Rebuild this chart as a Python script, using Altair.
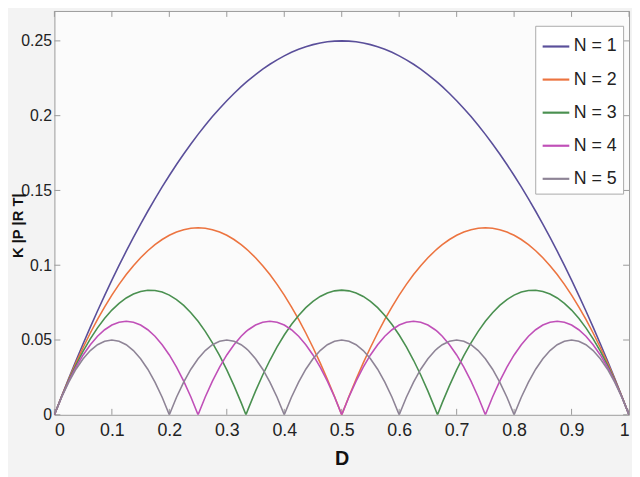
import altair as alt
import pandas as pd

D = [0, .0125, .025, .0375, .05, .0625, .075, .0875, .1, .1125,
     .125, .1375, .15, .1625, .175, .1875, .2, .2125, .225, .2375,
     .25, .2625, .275, .2875, .3, .3125, .325,
     .33333,
     .3375, .35, .3625, .375, .3875, .4, .4125, .425, .4375, .45, .4625, .475, .4875,
     .5,
     .5125, .525, .5375, .55, .5625, .575, .5875, .6, .6125, .625, .6375, .65, .6625,
     .66667,
     .675, .6875, .7, .7125, .725, .7375, .75,
     .7625, .775, .7875, .8, .8125, .825, .8375, .85, .8625, .875,
     .8875, .9, .9125, .925, .9375, .95, .9625, .975, .9875, 1]

N1 = [0, .01234, .02438, .03609, .0475, .05859, .06938, .07984, .09, .09984,
      .10938, .11859, .1275, .13609, .14438, .15234, .16, .16734, .17438, .18109,
      .1875, .19359, .19938, .20484, .21, .21484, .21938,
      .22222,
      .22359, .2275, .23109, .23438, .23734, .24, .24234, .24438, .24609, .2475, .24859, .24938, .24984,
      .25,
      .24984, .24938, .24859, .2475, .24609, .24438, .24234, .24, .23734, .23438, .23109, .2275, .22359,
      .22222,
      .21938, .21484, .21, .20484, .19938, .19359, .1875,
      .18109, .17438, .16734, .16, .15234, .14438, .13609, .1275, .11859, .10938,
      .09984, .09, .07984, .06938, .05859, .0475, .03609, .02438, .01234, 0]

N2 = [0, .01219, .02375, .03469, .045, .05469, .06375, .07219, .08, .08719,
      .09375, .09969, .105, .10969, .11375, .11719, .12, .12219, .12375, .12469,
      .125, .12469, .12375, .12219, .12, .11719, .11375,
      .11111,
      .10969, .105, .09969, .09375, .08719, .08, .07219, .06375, .05469, .045, .03469, .02375, .01219,
      0,
      .01219, .02375, .03469, .045, .05469, .06375, .07219, .08, .08719, .09375, .09969, .105, .10969,
      .11111,
      .11375, .11719, .12, .12219, .12375, .12469, .125,
      .12469, .12375, .12219, .12, .11719, .11375, .10969, .105, .09969, .09375,
      .08719, .08, .07219, .06375, .05469, .045, .03469, .02375, .01219, 0]

N3 = [0, .01203, .02313, .03328, .0425, .05078, .05813, .06453, .07, .07453,
      .07813, .08078, .0825, .08328, .08313, .08203, .08, .07703, .07313, .06828,
      .0625, .05578, .04813, .03953, .03, .01953, .00813,
      0,
      .00411, .01583, .02661, .03646, .04536, .05333, .06036, .06646, .07161, .07583, .07911, .08146, .08286,
      .08333,
      .08286, .08146, .07911, .07583, .07161, .06646, .06036, .05333, .04536, .03646, .02661, .01583, .00411,
      0,
      .00813, .01953, .03, .03953, .04813, .05578, .0625,
      .06828, .07313, .07703, .08, .08203, .08313, .08328, .0825, .08078, .07813,
      .07453, .07, .06453, .05813, .05078, .0425, .03328, .02313, .01203, 0]

N4 = [0, .01188, .0225, .03188, .04, .04688, .0525, .05688, .06, .06188,
      .0625, .06188, .06, .05688, .0525, .04688, .04, .03188, .0225, .01188,
      0, .01188, .0225, .03188, .04, .04688, .0525,
      .05556,
      .05688, .06, .06188, .0625, .06188, .06, .05688, .0525, .04688, .04, .03188, .0225, .01188,
      0,
      .01188, .0225, .03188, .04, .04688, .0525, .05688, .06, .06188, .0625, .06188, .06, .05688,
      .05556,
      .0525, .04688, .04, .03188, .0225, .01188, 0,
      .01188, .0225, .03188, .04, .04688, .0525, .05688, .06, .06188, .0625,
      .06188, .06, .05688, .0525, .04688, .04, .03188, .0225, .01188, 0]

N5 = [0, .01172, .02188, .03047, .0375, .04297, .04688, .04922, .05, .04922,
      .04688, .04297, .0375, .03047, .02188, .01172, 0, .01172, .02188, .03047,
      .0375, .04297, .04688, .04922, .05, .04922, .04688,
      .04444,
      .04297, .0375, .03047, .02188, .01172, 0, .01172, .02188, .03047, .0375, .04297, .04688, .04922,
      .05,
      .04922, .04688, .04297, .0375, .03047, .02188, .01172, 0, .01172, .02188, .03047, .0375, .04297,
      .04444,
      .04688, .04922, .05, .04922, .04688, .04297, .0375,
      .03047, .02188, .01172, 0, .01172, .02188, .03047, .0375, .04297, .04688,
      .04922, .05, .04922, .04688, .04297, .0375, .03047, .02188, .01172, 0]

SERIES = ["N = 1", "N = 2", "N = 3", "N = 4", "N = 5"]
COLORS = ["#5a4f9a", "#ec7440", "#4a9050", "#c050b8", "#8e8496"]
X_TICKS = [0, 0.1, 0.2, 0.3, 0.4, 0.5, 0.6, 0.7, 0.8, 0.9, 1]
Y_TICKS = [0, 0.05, 0.1, 0.15, 0.2, 0.25]

rows = []
for name, vals in zip(SERIES, [N1, N2, N3, N4, N5]):
    for d, v in zip(D, vals):
        rows.append({"D": d, "K": v, "series": name})
df = pd.DataFrame(rows)
xt = pd.DataFrame({"t": X_TICKS})
yt = pd.DataFrame({"t": Y_TICKS})

W, H = 582, 409
FONT = "Liberation Sans"

xscale = alt.Scale(domain=[0, 1], nice=False, zero=False)
yscale = alt.Scale(domain=[0, 0.27], nice=False, zero=False)

lines = alt.Chart(df).mark_line(strokeWidth=1.6, clip=True).encode(
    x=alt.X("D:Q", scale=xscale, title="D",
            axis=alt.Axis(values=X_TICKS, format="~g", ticks=False, tickSize=0, domain=False,
                          grid=False, labelPadding=7, labelFontSize=18, labelFont=FONT,
                          labelColor="#222222", titleFont=FONT, titleFontSize=20,
                          titleFontWeight="bold", titleColor="#111111", titleY=34)),
    y=alt.Y("K:Q", scale=yscale, title="K |P |R T|",
            axis=alt.Axis(values=Y_TICKS, format="~g", ticks=False, tickSize=0, domain=False,
                          grid=False, labelPadding=3, labelFontSize=16, labelFont=FONT,
                          labelColor="#222222", titleFont=FONT, titleFontSize=15,
                          titleFontWeight="bold", titleColor="#111111", titleX=-37, titleY=217,
                          titleAlign="center", titleBaseline="middle")),
    color=alt.Color("series:N", scale=alt.Scale(domain=SERIES, range=COLORS),
                    legend=alt.Legend(title=None, orient="none", legendX=487, legendY=15,
                                      symbolType="stroke", symbolSize=729, symbolStrokeWidth=2.2,
                                      labelFontSize=18, labelFont=FONT, labelColor="#222222",
                                      padding=6, rowPadding=9.5, labelOffset=3,
                                      fillColor="#ffffff", strokeColor="#aaaaaa")),
)

tick_color = "#999999"
xb = alt.Chart(xt).mark_rule(color=tick_color).encode(
    x=alt.X("t:Q", scale=xscale), y=alt.value(H), y2=alt.value(H - 6))
xtop = alt.Chart(xt).mark_rule(color=tick_color).encode(
    x=alt.X("t:Q", scale=xscale), y=alt.value(0), y2=alt.value(6))
yl = alt.Chart(yt).mark_rule(color=tick_color).encode(
    y=alt.Y("t:Q", scale=yscale), x=alt.value(0), x2=alt.value(6))
yr = alt.Chart(yt).mark_rule(color=tick_color).encode(
    y=alt.Y("t:Q", scale=yscale), x=alt.value(W), x2=alt.value(W - 6))

chart = alt.layer(xb, xtop, yl, yr, lines).properties(
    width=W, height=H,
    autosize=alt.AutoSizeParams(type="none"),
    padding={"left": 47, "top": 0, "right": 3, "bottom": 60},
    background="#f3f3f3",
).configure_view(stroke="#9a9a9a", strokeWidth=1, fill="#fbfbfb")

chart.save("out.html", embed_options={"renderer": "svg", "actions": False})
